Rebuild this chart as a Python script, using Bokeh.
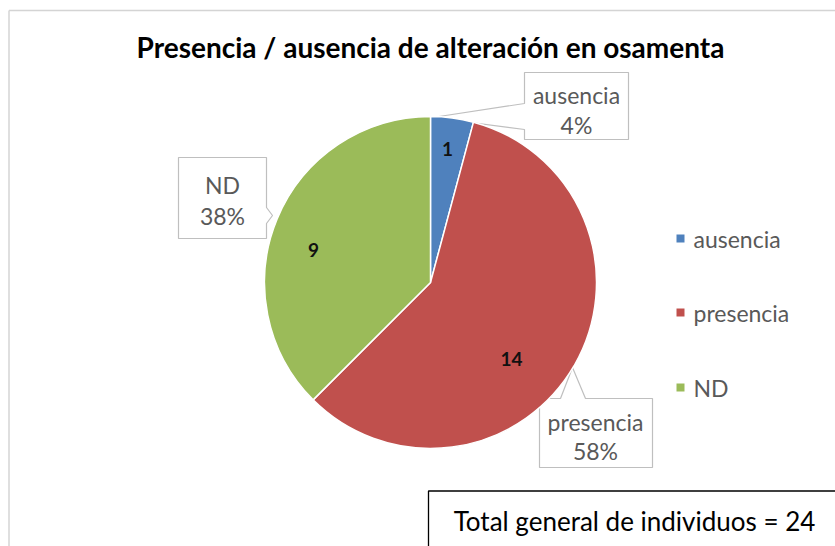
import math
from bokeh.plotting import figure
from bokeh.models import Range1d, ColumnDataSource
from bokeh.core.properties import value
from bokeh.embed import file_html
from bokeh.resources import INLINE

# ---- data ----
categories = ["ausencia", "presencia", "ND"]
counts = [1, 14, 9]
colors = ["#4F81BD", "#C0504D", "#9BBB59"]
title_text = "Presencia / ausencia de alteración en osamenta"
total_label = "Total general de individuos = 24"

W, H = 835, 546
FONT = "Lato"

def X(ix):
    return ix

def Y(iy):
    return H - iy

p = figure(width=W, height=H, output_backend="svg", toolbar_location=None,
           x_range=Range1d(0, W), y_range=Range1d(0, H),
           min_border=0, min_border_left=0, min_border_right=0,
           min_border_top=0, min_border_bottom=0)
p.axis.visible = False
p.grid.visible = False
p.outline_line_color = None
p.background_fill_color = "white"
p.border_fill_color = "white"

# chart area border (top and left visible)
p.segment(x0=[X(8.5), X(8.5)], y0=[Y(10), Y(10)], x1=[X(8.5), X(850)], y1=[Y(560), Y(10)],
          line_color="#d4d4d4", line_width=1.5)

total = sum(counts)
pcts = [round(100 * c / total) for c in counts]

# ---- callouts (drawn under the pie) ----
callout_shapes = [
    [(524, 72), (628, 72), (628, 139), (524, 139), (524, 129), (432, 117), (524, 103)],
    [(539, 398), (560, 398), (572, 367), (585, 398), (652, 398), (652, 467), (539, 467)],
    [(178, 157), (266, 157), (266, 207), (272, 215), (266, 223), (266, 238), (178, 238)],
]
p.patches(xs=[[X(a) for a, b in s] for s in callout_shapes],
          ys=[[Y(b) for a, b in s] for s in callout_shapes],
          fill_color="white", line_color="#bfbfbf", line_width=1.2)

callout_centers = [(576, 94, 124), (595, 421, 450), (222, 184, 215)]
cx = []
cy = []
ct = []
for (x0, y1, y2), cat, pc in zip(callout_centers, categories, pcts):
    cx += [X(x0), X(x0)]
    cy += [Y(y1), Y(y2)]
    ct += [cat, f"{pc}%"]
p.text(x=cx, y=cy, text=ct, text_font=value(FONT), text_font_size="23px",
       text_align="center", text_baseline="middle", text_color="#595959")

# ---- pie ----
cum = [0]
for c in counts:
    cum.append(cum[-1] + c)
start = [math.pi / 2 - 2 * math.pi * cum[i] / total for i in range(len(counts))]
end = [math.pi / 2 - 2 * math.pi * cum[i + 1] / total for i in range(len(counts))]
src = ColumnDataSource(dict(x=[X(430)] * 3, y=[Y(282)] * 3, start=start, end=end,
                            color=colors, cat=categories))
p.wedge(x="x", y="y", radius=166, start_angle="start", end_angle="end",
        direction="clock", fill_color="color", line_color="white", line_width=1.5,
        source=src)

# data labels inside slices
label_pos = [(447, 148), (511, 358), (313, 249)]
p.text(x=[X(a) for a, b in label_pos], y=[Y(b) for a, b in label_pos],
       text=[str(c) for c in counts], text_font=value(FONT), text_font_size="19px",
       text_font_style="bold", text_align="center", text_baseline="middle",
       text_color="#111111")

# ---- title ----
p.text(x=[X(430)], y=[Y(46)], text=[title_text], text_font=value(FONT),
       text_font_size="28px", text_font_style="bold", text_align="center",
       text_baseline="middle", text_color="#000000")

# ---- legend ----
leg_y = [238, 312, 387]
p.scatter(x=[X(680)] * 3, y=[Y(v) for v in leg_y], marker="square", size=8,
          fill_color=colors, line_color=None)
p.text(x=[X(693)] * 3, y=[Y(v) for v in leg_y], text=categories,
       text_font=value(FONT), text_font_size="23px", text_align="left",
       text_baseline="middle", text_color="#595959")

# ---- total box ----
p.quad(left=[X(428)], right=[X(850)], top=[Y(490.5)], bottom=[Y(560)],
       fill_color="white", line_color="#000000", line_width=1.3)
p.text(x=[X(634)], y=[Y(520)], text=[total_label], text_font=value(FONT),
       text_font_size="26px", text_align="center", text_baseline="middle",
       text_color="#000000")

open("out.html", "w").write(file_html(p, INLINE))
